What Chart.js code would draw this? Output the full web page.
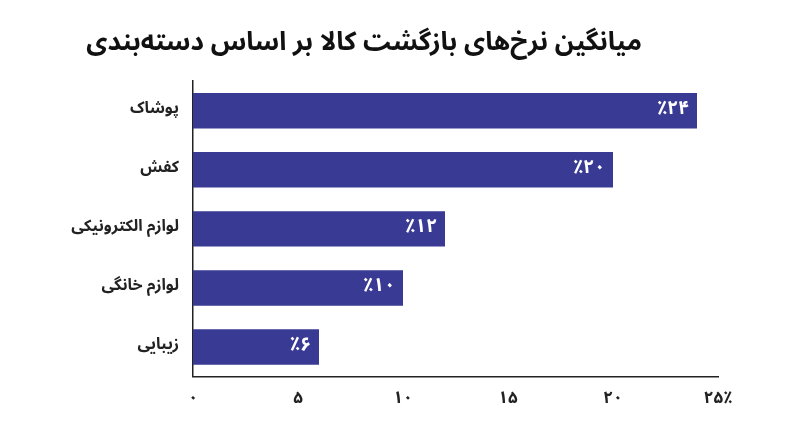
<!DOCTYPE html>
<html><head><meta charset="utf-8">
<script src="https://cdn.jsdelivr.net/npm/chart.js@4"></script>
<style>html,body{margin:0;background:#fff}#w{width:800px;height:447px}</style>
</head><body><div id="w"><canvas id="c"></canvas></div>
<script>
const categories = ["پوشاک","کفش","لوازم الکترونیکی","لوازم خانگی","زیبایی"];
const values = [24,20,12,10,6];
const valueLabels = ["٪۲۴","٪۲۰","٪۱۲","٪۱۰","٪۶"];
const tickLabels = {0:"۰",5:"۵",10:"۱۰",15:"۱۵",20:"۲۰",25:"۲۵٪"};
const F = "'Noto Sans Arabic','DejaVu Sans',sans-serif";
const labelPlugin = {id:'vl',afterDatasetsDraw(ch){
  const ctx=ch.ctx, meta=ch.getDatasetMeta(0);
  ctx.save();ctx.fillStyle='#fff';ctx.font='bold 19px '+F;ctx.textAlign='right';ctx.textBaseline='middle';
  meta.data.forEach((b,i)=>ctx.fillText(valueLabels[i],b.x-8,b.y));
  ctx.restore();}};
new Chart(document.getElementById('c'),{type:'bar',
 data:{labels:categories,datasets:[{data:values,backgroundColor:'#393a94',barPercentage:0.6,categoryPercentage:1}]},
 options:{indexAxis:'y',responsive:true,maintainAspectRatio:false,animation:false,
  layout:{padding:{left:10,right:82,top:12,bottom:22}},
  plugins:{legend:{display:false},tooltip:{enabled:false},
   title:{display:true,text:'میانگین نرخ‌های بازگشت کالا بر اساس دسته‌بندی',color:'#111',font:{family:F,size:26,weight:'bold'},padding:{top:18,bottom:20}}},
  scales:{
   x:{min:0,max:25,grid:{display:false,drawTicks:false},border:{color:'#222',width:1.5},
      ticks:{stepSize:5,color:'#222',padding:14,font:{family:F,size:17,weight:'bold'},callback:v=>tickLabels[v]}},
   y:{afterFit(s){s.width=183;},grid:{display:false,drawTicks:false},border:{color:'#222',width:1.5},
      ticks:{color:'#222',padding:14,font:{family:F,size:16,weight:'bold'}}}}},
 plugins:[labelPlugin]});
</script></body></html>
